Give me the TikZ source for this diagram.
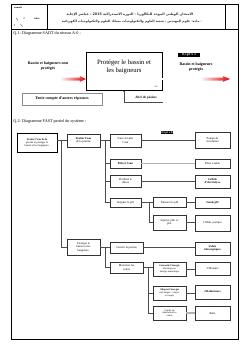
\documentclass[tikz,border=0pt]{standalone}
\usepackage{fontspec}
\setmainfont{Liberation Serif}
\newfontfamily\arabicfont[Script=Arabic]{DejaVu Sans}
\TeXXeTstate=1
\usetikzlibrary{arrows.meta,calc}
\begin{document}
\begin{tikzpicture}[x=2.4pt,y=-2.4pt,
  wh/.style 2 args={minimum width=#1*2.4pt, minimum height=#2*2.4pt},
  fbox/.style={draw=black!80, line width=1.3pt, fill=white, align=center, inner sep=0.5pt, font=\fontsize{7}{8}\selectfont},
  small3/.style={font=\fontsize{6}{6.8}\selectfont},
  bold/.style={font=\bfseries\fontsize{7}{8}\selectfont},
  conn/.style={draw=black!70, line width=1.2pt},
  gconn/.style={draw=black!30, line width=3pt},
  tag/.style={fill=black, text=white, font=\bfseries\fontsize{7}{8}\selectfont, inner sep=1pt},
  lbl/.style={font=\bfseries\fontsize{9.5}{12}\selectfont, align=center},
  dbl/.style={draw=black, line width=0.7pt, double=white, double distance=3.6pt},
  redhead/.style={left color=white, right color=red!90!black},
  arab/.style={text=black!80}]
\useasboundingbox (0,0) rectangle (248,351);
\fill[white] (0,0) rectangle (248,351);
% page frame and header
\draw[line width=2pt] (11,4) rectangle (238,339);
\draw[line width=1.2pt] (11,29) -- (238,29);
\draw[line width=1.2pt] (47,4) -- (47,29);
\draw[line width=1.2pt] (225,4) -- (225,29);
\node[font=\arabicfont\bfseries\fontsize{5}{6}\selectfont] (pg) at (18,8) {\beginR الصفحة\endR};
\node[font=\fontsize{7}{8}\selectfont] (n2) at (24,19) {2};
\node[font=\bfseries\fontsize{5}{6}\selectfont] (code) at (37,19) {RR46};
\node[font=\fontsize{7}{8}\selectfont] (n5) at (14.5,25.5) {5};
\draw[line width=0.5pt] (16,18) -- (18,20.5);
\draw[line width=0.5pt] (20.5,24) -- (22.5,26.5);
\node[arab, font=\arabicfont\bfseries\fontsize{8.1}{10}\selectfont] (h1) at (130,15) {\beginR الامتحان الوطني الموحد للبكالوريا - الدورة الاستدراكية \beginL2015\endL{} - عناصر الإجابة\endR};
\node[arab, font=\arabicfont\bfseries\fontsize{7.6}{10}\selectfont] (h2) at (132,22) {\beginR - مادة: علوم المهندس - شعبة العلوم والتكنولوجيات مسلك العلوم والتكنولوجيات الكهربائية\endR};
% Q1
\node[anchor=west, font=\fontsize{10}{12}\selectfont] (q1) at (12,33.5) {Q.1- Diagramme SADT du niveau A-0 :};
\node[draw, line width=1.2pt, wh={76}{38}, align=center, font=\fontsize{16}{19}\selectfont] (main) at (124,71) {Protéger le bassin et\\les baigneurs\\[3pt]};
\node[anchor=south east, font=\fontsize{5}{6}\selectfont] (a0) at ($(main.south east)+(-3,-1.5)$) {A-0};
\node[lbl] (inl) at (48,66) {Bassin et baigneurs non\\protégés};
\node[lbl] (outl) at (196,67.5) {Bassin et baigneurs\\protégés};
\node[tag, font=\bfseries\fontsize{8.5}{9}\selectfont, wh={22}{4.5}] (tag1) at (189,55) {0,5 pt x 3};
\coordinate (inS) at (18,79);
\coordinate (outE) at (226,79);
\draw[dbl] (inS) -- (main.west |- inS);
\shade[redhead] (60,77.5) -- (80.5,77.5) -- (79.5,76) -- (86,79) -- (79.5,82) -- (80.5,80.5) -- (60,80.5) -- cycle;
\draw[dbl] (main.east |- outE) -- (outE);
\shade[redhead] (200,77.5) -- (223.5,77.5) -- (222.5,76) -- (230,79) -- (222.5,82) -- (223.5,80.5) -- (200,80.5) -- cycle;
\node[draw=black!45, line width=0.8pt, wh={80}{12}, lbl] (tenir) at (62,99) {Tenir compte d'autres réponses};
\coordinate (mech) at (163,102);
\draw[draw=black!70, line width=0.9pt, -{Stealth[length=4pt,width=4pt]}] (mech) -| (main.south);
\node[anchor=south, font=\bfseries\fontsize{8}{9}\selectfont] (abri) at (146,101) {Abri de piscine};
% Q2
\node[anchor=west, font=\fontsize{10}{12}\selectfont] (q2) at (12,121) {Q.2- Diagramme FAST partiel du système :};
\node[tag] (tag2) at (167,132.5) {0,5 pt x 8};
% FAST boxes
\node[fbox, wh={40}{19}, draw=black, line width=1.4pt, font=\fontsize{6.4}{7.4}\selectfont] (root) at (37,142.5) {\textbf{Traiter l'eau de la}\\piscine et protéger le\\bassin et les baigneurs.};
\node[fbox, wh={33}{13}] (l2a) at (83.5,140.5) {\textbf{Traiter l'eau}\\de la piscine};
\node[fbox, wh={33}{16}] (l2b) at (83.5,247) {Protéger le\\bassin et les\\baigneurs.};
\node[fbox, wh={31}{13}] (fc) at (125.5,140.5) {Faire circuler\\l'eau};
\node[fbox, wh={31}{9}, line width=1.7pt, bold] (fe) at (125.5,163.5) {Filtrer l'eau};
\node[fbox, wh={31}{12}] (pl) at (125.5,181) {Produire le\\chlore};
\node[fbox, wh={31}{9}] (rp) at (125.5,202.5) {Réguler le pH};
\node[fbox, wh={33}{10}] (mp) at (169.5,202.5) {Mesurer le pH};
\node[fbox, wh={33}{15}] (ip) at (169.5,222.5) {Injecter pH+ et\\pH-};
\node[fbox, wh={35}{16}] (pc) at (212.5,140) {Pompe de\\circulation};
\node[fbox, wh={35}{9}] (fs) at (212.5,163.5) {Filtre à sable};
\node[fbox, wh={35}{13}, bold] (ce) at (212.5,181.5) {Cellule\\d'électrolyse};
\node[fbox, wh={35}{11}, bold] (sp) at (212.5,202.5) {Sonde pH};
\node[fbox, wh={35}{16}] (mm) at (212.5,223) {2 Mini. pompes};
\node[fbox, wh={33}{11}] (cp) at (126.5,247.5) {Couvrir la piscine};
\node[fbox, wh={33}{11}] (mv) at (126.5,267.5) {Motoriser les\\volets};
\node[fbox, wh={35}{13}, bold] (vt) at (212.5,248.5) {Volets\\télescopiques};
\node[fbox, wh={33}{14}, small3] (cv) at (169.5,269) {\textbf{Convertir l'énergie}\\électrique en\\énergie mécanique};
\node[fbox, wh={33}{14}, small3] (ad) at (169.5,293) {\textbf{Adapter l'énergie}\\mécanique : vitesse\\et couple};
\node[fbox, wh={33}{14}, small3] (gd) at (169.5,313) {Guider en\\translation les\\volets};
\node[fbox, wh={35}{13}] (m2) at (212.5,268.5) {2 Moteurs};
\node[fbox, wh={35}{14}, bold] (r2) at (212.5,292) {2 Réducteurs};
\node[fbox, wh={35}{14}] (rl) at (212.5,313) {Rails};
% trunks
\coordinate (tA) at (61,0);
\coordinate (tB) at (105,0);
\coordinate (tC) at (149,0);
\coordinate (tE) at (148,0);
% connectors
\draw[conn] (root.east |- l2a) -- (l2a.west);
\draw[conn] (tA |- l2a) -- (tA |- l2b) -- (l2b.west);
\draw[conn] (l2a.east) -- (fc.west);
\draw[conn] (tB |- fc) -- (tB |- rp) -- (rp.west);
\draw[conn] (tB |- fe) -- (fe.west);
\draw[conn] (tB |- pl) -- (pl.west);
\draw[conn] (fc.east) -- (pc.west |- fc);
\draw[gconn] (fe.east) -- (fs.west);
\draw[conn] (pl.east) -- (ce.west |- pl);
\draw[conn] (rp.east) -- (mp.west);
\draw[conn] (tC |- mp) -- (tC |- ip) -- (ip.west);
\draw[conn] (mp.east) -- (sp.west |- mp);
\draw[conn] (ip.east) -- (mm.west |- ip);
\draw[conn] (l2b.east) -- (cp.west |- l2b);
\draw[conn] (tB |- cp) -- (tB |- mv) -- (mv.west);
\draw[conn] (cp.east) -- (vt.west |- cp);
\draw[conn] (mv.east) -- (cv.west |- mv);
\draw[conn] (tE |- mv) -- (tE |- gd) -- (gd.west);
\draw[conn] (tE |- ad) -- (ad.west);
\draw[conn] (cv.east) -- (m2.west |- cv);
\draw[conn] (ad.east) -- (r2.west |- ad);
\draw[gconn] (gd.east) -- (rl.west);
\end{tikzpicture}
\end{document}
